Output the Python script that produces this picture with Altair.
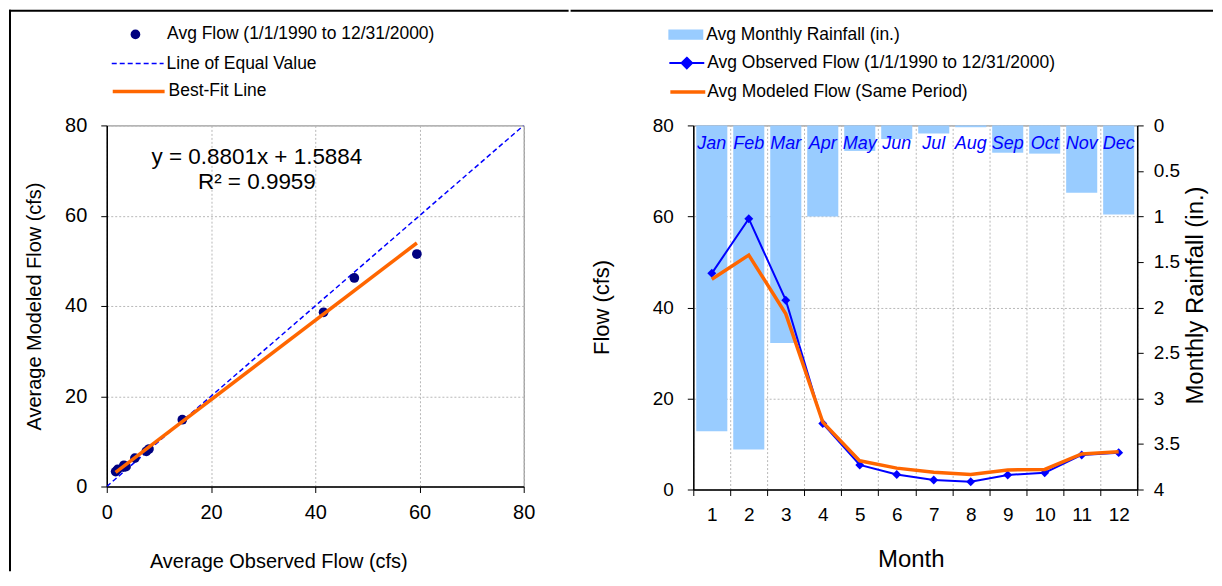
import altair as alt
import pandas as pd

# ---------------- data ----------------
months = list(range(1, 13))
month_names = ["Jan", "Feb", "Mar", "Apr", "May", "Jun",
               "Jul", "Aug", "Sep", "Oct", "Nov", "Dec"]
observed_flow = [47.5, 59.5, 41.6, 14.5, 5.4, 3.3, 2.1, 1.7, 3.2, 3.7, 7.6, 8.1]
modeled_flow = [46.2, 51.5, 38.6, 14.8, 6.3, 4.7, 3.8, 3.3, 4.3, 4.4, 7.8, 8.3]
rainfall = [3.36, 3.56, 2.39, 1.00, 0.28, 0.15, 0.09, 0.02, 0.30, 0.31, 0.74, 0.98]
equal_line = [0, 80]
flow_ticks = [0, 20, 40, 60, 80]
rain_ticks = [0, 0.5, 1, 1.5, 2, 2.5, 3, 3.5, 4]
left_series = ["Avg Flow (1/1/1990 to 12/31/2000)", "Line of Equal Value", "Best-Fit Line"]
right_series = ["Avg Monthly Rainfall (in.)",
                "Avg Observed Flow (1/1/1990 to 12/31/2000)",
                "Avg Modeled Flow (Same Period)"]
equation_text = ["y = 0.8801x + 1.5884", "R² = 0.9959"]

FONT = "Liberation Sans"
NAVY = "#000080"
BLUE = "#0000ff"
ORANGE = "#ff6600"
RAIN = "#99ccff"

df = pd.DataFrame({"month": months, "name": month_names, "obs": observed_flow,
                   "mod": modeled_flow, "rain": rainfall})
eq_df = pd.DataFrame({"v": equal_line})
one = pd.DataFrame({"k": [0]})


def one_legend(label, color, x, y, **kw):
    return alt.Color(
        "s:N",
        scale=alt.Scale(domain=[label], range=[color]),
        legend=alt.Legend(orient="none", legendX=x, legendY=y, title=None, padding=0,
                          labelFont=FONT, labelFontSize=17.5, labelColor="black",
                          labelLimit=600, **kw),
    )


def frame_rule(**enc):
    return alt.Chart(one).mark_rule(color="black", strokeWidth=2,
                                    strokeCap="square").encode(**enc)


# ---------------- left panel ----------------
sc80 = alt.Scale(domain=[0, 80], nice=False, zero=True)
ax_x_left = alt.Axis(values=flow_ticks, title="Average Observed Flow (cfs)", grid=True,
                     tickSize=6, labelPadding=10, labelFontSize=20, titleFontSize=20,
                     labelFlush=False,
                     titleX=172, titleY=75, titleAlign="center", titleBaseline="middle")
ax_y_left = alt.Axis(values=flow_ticks, title="Average Modeled Flow (cfs)", grid=True,
                     tickSize=6, labelPadding=14, labelFontSize=20, titleFontSize=20,
                     labelFlush=False,
                     titleX=-72, titleY=181, titleAngle=270, titleAlign="center",
                     titleBaseline="middle")

eq_line = alt.Chart(eq_df).transform_calculate(s=f"'{left_series[1]}'").mark_line(
    strokeDash=[5, 3], strokeWidth=1.5, clip=True
).encode(
    x=alt.X("v:Q", scale=sc80, axis=ax_x_left),
    y=alt.Y("v:Q", scale=sc80, axis=ax_y_left),
    color=one_legend(left_series[1], BLUE, 4, -89, symbolType="stroke", symbolSize=2704,
                     symbolDash=[5, 3], symbolStrokeWidth=1.5, labelOffset=2),
)

pts = alt.Chart(df).transform_calculate(s=f"'{left_series[0]}'").mark_point(
    filled=True, size=95, opacity=1, shape="circle"
).encode(
    x=alt.X("obs:Q", scale=sc80, axis=ax_x_left),
    y=alt.Y("mod:Q", scale=sc80, axis=ax_y_left),
    color=one_legend(left_series[0], NAVY, 20, -100, symbolType="circle", symbolSize=95,
                     labelOffset=23),
)

fit = alt.Chart(df).transform_regression("obs", "mod").transform_calculate(
    s=f"'{left_series[2]}'"
).mark_line(strokeWidth=3.5).encode(
    x=alt.X("obs:Q", scale=sc80, axis=ax_x_left),
    y=alt.Y("mod:Q", scale=sc80, axis=ax_y_left),
    color=one_legend(left_series[2], ORANGE, 4, -62, symbolType="stroke", symbolSize=2704,
                     symbolStrokeWidth=3.5, labelOffset=2),
)

eq_txt1 = alt.Chart(one).mark_text(font=FONT, fontSize=22.5, color="black",
                                   align="center", baseline="middle").encode(
    x=alt.value(150.5), y=alt.value(32), text=alt.value(equation_text[0]))
eq_txt2 = alt.Chart(one).mark_text(font=FONT, fontSize=22.5, color="black",
                                   align="center", baseline="middle").encode(
    x=alt.value(150.5), y=alt.value(57), text=alt.value(equation_text[1]))

left = alt.layer(
    frame_rule(x=alt.value(-97), y=alt.value(-115), y2=alt.value(446)),
    frame_rule(x=alt.value(-97), x2=alt.value(462), y=alt.value(-115)),
    eq_line, pts, fit, eq_txt1, eq_txt2,
).resolve_scale(color="independent").properties(width=418, height=362)

# ---------------- right panel ----------------
xR = alt.X("month:O", scale=alt.Scale(type="band", paddingInner=0, paddingOuter=0),
           axis=alt.Axis(title="Month", labelAngle=0, tickBand="extent", grid=True,
                         tickSize=6, labelPadding=10, labelFontSize=19, titleFontSize=24,
                         titleX=218, titleY=70, titleAlign="center", titleBaseline="middle"))
flow_scale = alt.Scale(domain=[0, 80], nice=False)
flow_axis = alt.Axis(orient="left", values=flow_ticks, title="Flow (cfs)", grid=True,
                     tickSize=6, labelPadding=14, labelFontSize=19, titleFontSize=22,
                     labelFlush=False,
                     titleX=-92, titleY=182, titleAngle=270, titleAlign="center",
                     titleBaseline="middle")
rain_axis = alt.Axis(orient="right", values=rain_ticks, format="~g",
                     title="Monthly Rainfall (in.)", grid=False, tickSize=6,
                     labelPadding=10, labelFontSize=19, titleFontSize=24,
                     labelFlush=False,
                     titleX=58.5, titleY=170, titleAngle=270, titleAlign="center",
                     titleBaseline="middle")

bars = alt.Chart(df).transform_calculate(s=f"'{right_series[0]}'").mark_bar(
    width=alt.RelativeBandSize(0.84)
).encode(
    x=xR,
    y=alt.Y("rain:Q", scale=alt.Scale(domain=[0, 4], reverse=True, nice=False), axis=rain_axis),
    color=one_legend(right_series[0], RAIN, -25, -108.5,
                     symbolType="M-1,-0.3H1V0.3H-1Z", symbolSize=1225,
                     symbolStrokeWidth=0, labelOffset=3),
)

obs_line = alt.Chart(df).mark_line(color=BLUE, strokeWidth=2).encode(
    x=xR, y=alt.Y("obs:Q", scale=flow_scale, axis=flow_axis))

obs_pts = alt.Chart(df).transform_calculate(s=f"'{right_series[1]}'").mark_point(
    shape="diamond", filled=True, size=80, opacity=1
).encode(
    x=xR, y=alt.Y("obs:Q", scale=flow_scale, axis=None),
    color=one_legend(right_series[1], BLUE, -25, -81,
                     symbolType="M-1,0H1M0,-0.3L0.3,0L0,0.3L-0.3,0Z", symbolSize=1225,
                     symbolStrokeColor=BLUE, symbolStrokeWidth=2, labelOffset=2),
)

mod_line = alt.Chart(df).transform_calculate(s=f"'{right_series[2]}'").mark_line(
    strokeWidth=3.5
).encode(
    x=xR, y=alt.Y("mod:Q", scale=flow_scale, axis=None),
    color=one_legend(right_series[2], ORANGE, -25, -53, symbolType="stroke",
                     symbolSize=1225, symbolStrokeWidth=3.5, labelOffset=0),
)

month_lbl = alt.Chart(df).mark_text(font=FONT, fontSize=18, fontStyle="italic", color=BLUE,
                                    align="center", baseline="middle").encode(
    x=xR, y=alt.value(19), text="name:N")

right = alt.layer(
    frame_rule(x=alt.value(-122), x2=alt.value(520), y=alt.value(-115)),
    bars, obs_line, obs_pts, mod_line, month_lbl,
).resolve_scale(y="independent", color="independent").properties(width=445, height=365)

chart = alt.hconcat(left, right, spacing=0, padding=0, background="white").configure(
    font=FONT
).configure_view(stroke="#808080", strokeWidth=1).configure_axis(
    labelFont=FONT, titleFont=FONT, titleFontWeight="normal", labelColor="black",
    titleColor="black", domainColor="black", tickColor="black", domainWidth=1.5,
    gridColor="#b8b8b8", gridDash=[2, 2], gridWidth=1
)

chart.save("out.html", embed_options={"renderer": "svg", "actions": False})
